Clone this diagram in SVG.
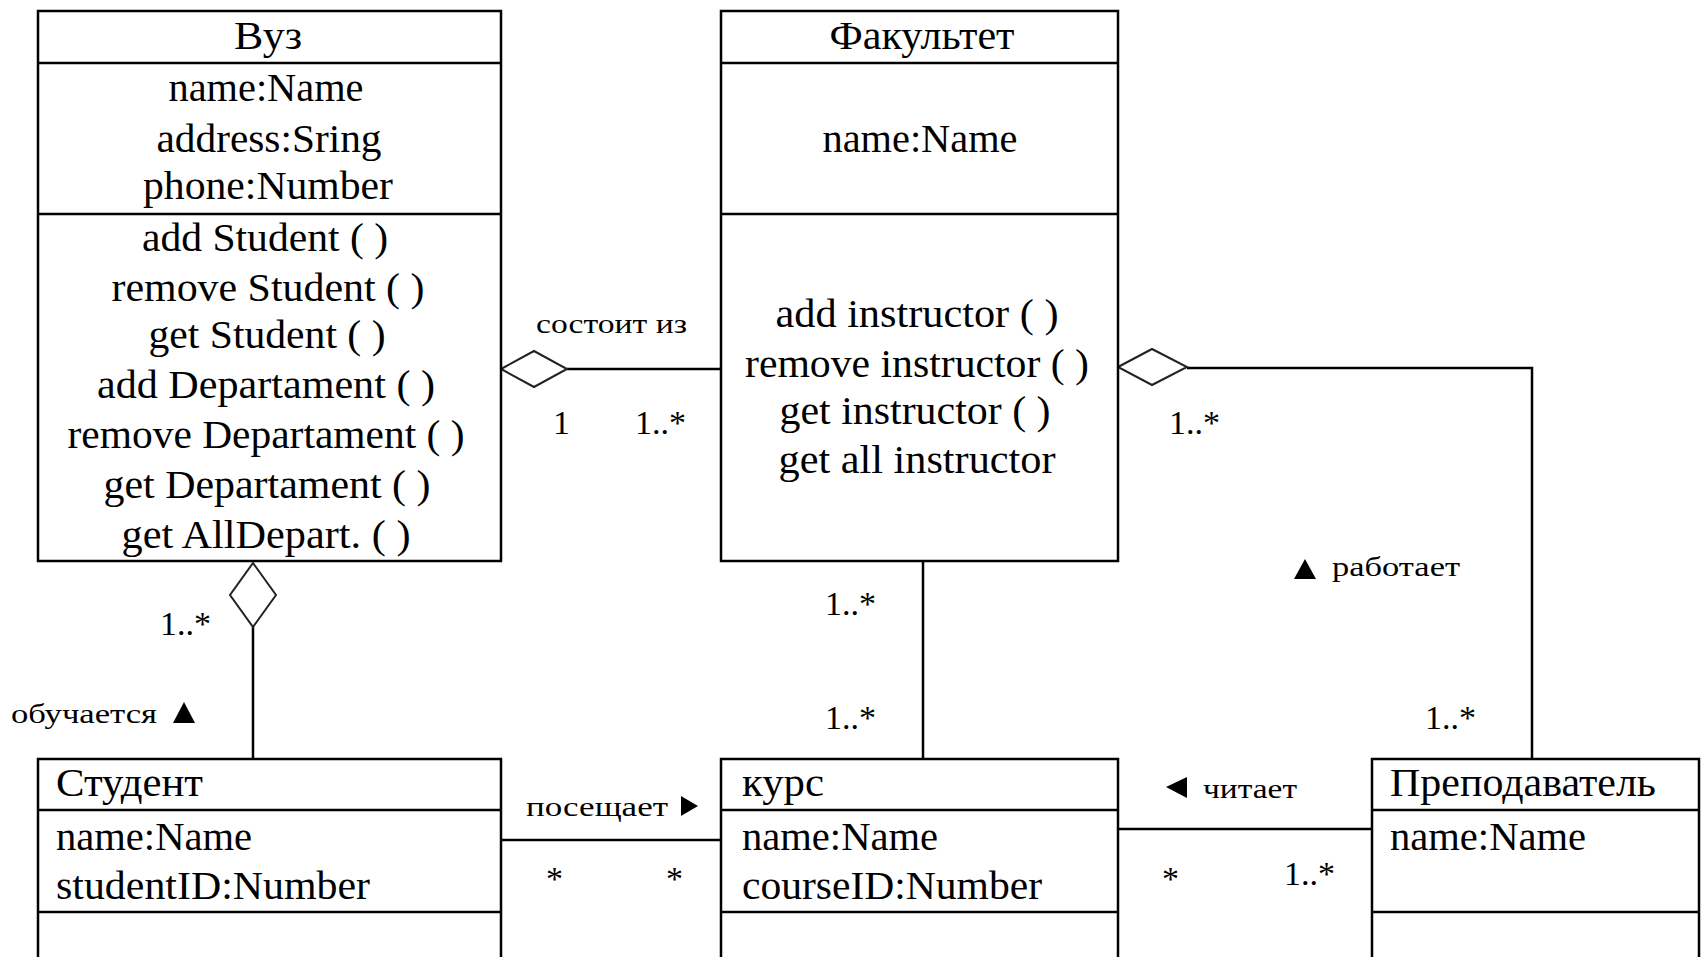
<svg xmlns="http://www.w3.org/2000/svg" width="1702" height="957" viewBox="0 0 1702 957">
<style>
.box{fill:#fff;stroke:#000;stroke-width:2.5}
.sep{stroke:#000;stroke-width:2.5}
.t{font-family:"Liberation Serif","Times New Roman",serif;font-size:40px;fill:#000}
.c{text-anchor:middle}
.m{font-family:"Liberation Serif","Times New Roman",serif;font-size:34px;fill:#000}
.l{font-family:"Liberation Serif","Times New Roman",serif;font-size:28px;fill:#000}
.ln{fill:none;stroke:#000;stroke-width:2.5}
.dia{fill:#fff;stroke:#222;stroke-width:2}
.tri{fill:#000}
</style>
<rect width="1702" height="957" fill="#fff"/>

<g id="connectors">
  <!-- Вуз - Факультет -->
  <line class="ln" x1="567" y1="369" x2="721" y2="369"/>
  <polygon class="dia" points="501,369 534,351 567,369 534,387"/>
  <!-- Факультет - Преподаватель -->
  <polyline class="ln" points="1187,368 1532,368 1532,759"/>
  <polygon class="dia" points="1118,367 1152,349 1187,367 1152,385"/>
  <!-- Вуз - Студент -->
  <line class="ln" x1="253" y1="627" x2="253" y2="759"/>
  <polygon class="dia" points="253,563 276,595 253,627 230,595"/>
  <!-- Факультет - курс -->
  <line class="ln" x1="923" y1="561" x2="923" y2="759"/>
  <!-- Студент - курс -->
  <line class="ln" x1="497" y1="840" x2="721" y2="840"/>
  <!-- курс - Преподаватель -->
  <line class="ln" x1="1118" y1="829" x2="1372" y2="829"/>

  <!-- labels -->
  <text class="l" x="536" y="333" textLength="151" lengthAdjust="spacingAndGlyphs">состоит из</text>
  <text class="m" x="553" y="434">1</text>
  <text class="m" x="635" y="434">1..*</text>
  <text class="m" x="1169" y="434">1..*</text>

  <polygon class="tri" points="1305,559 1316,579 1294,579"/>
  <text class="l" x="1332" y="576" textLength="128" lengthAdjust="spacingAndGlyphs">работает</text>
  <text class="m" x="1425" y="729">1..*</text>

  <text class="m" x="160" y="635">1..*</text>
  <text class="l" x="11" y="723" textLength="146" lengthAdjust="spacingAndGlyphs">обучается</text>
  <polygon class="tri" points="184,702 195,723 173,723"/>

  <text class="m" x="825" y="615">1..*</text>
  <text class="m" x="825" y="729">1..*</text>

  <text class="l" x="526" y="816" textLength="142" lengthAdjust="spacingAndGlyphs">посещает</text>
  <polygon class="tri" points="681,796 698,806 681,816"/>
  <text class="m" x="546" y="890">*</text>
  <text class="m" x="666" y="890">*</text>

  <polygon class="tri" points="1187,777 1187,798 1166,787"/>
  <text class="l" x="1203" y="798" textLength="94" lengthAdjust="spacingAndGlyphs">читает</text>
  <text class="m" x="1162" y="890">*</text>
  <text class="m" x="1284" y="885">1..*</text>
</g>

<g id="vuz">
  <rect class="box" x="38" y="11" width="463" height="550"/>
  <line class="sep" x1="38" y1="63" x2="501" y2="63"/>
  <line class="sep" x1="38" y1="214" x2="501" y2="214"/>
  <text class="t c" x="268" y="49" textLength="68" lengthAdjust="spacingAndGlyphs">Вуз</text>
  <text class="t c" x="266" y="101" textLength="195" lengthAdjust="spacingAndGlyphs">name:Name</text>
  <text class="t c" x="269" y="152" textLength="225" lengthAdjust="spacingAndGlyphs">address:Sring</text>
  <text class="t c" x="268" y="199" textLength="250" lengthAdjust="spacingAndGlyphs">phone:Number</text>
  <text class="t c" x="265" y="251" textLength="246" lengthAdjust="spacingAndGlyphs">add Student ( )</text>
  <text class="t c" x="268" y="301" textLength="313" lengthAdjust="spacingAndGlyphs">remove  Student ( )</text>
  <text class="t c" x="267" y="348" textLength="237" lengthAdjust="spacingAndGlyphs">get Student ( )</text>
  <text class="t c" x="266" y="398" textLength="338" lengthAdjust="spacingAndGlyphs">add Departament ( )</text>
  <text class="t c" x="266" y="448" textLength="397" lengthAdjust="spacingAndGlyphs">remove Departament ( )</text>
  <text class="t c" x="267" y="498" textLength="327" lengthAdjust="spacingAndGlyphs">get Departament ( )</text>
  <text class="t c" x="266" y="548" textLength="289" lengthAdjust="spacingAndGlyphs">get AllDepart. ( )</text>
</g>

<g id="fakultet">
  <rect class="box" x="721" y="11" width="397" height="550"/>
  <line class="sep" x1="721" y1="63" x2="1118" y2="63"/>
  <line class="sep" x1="721" y1="214" x2="1118" y2="214"/>
  <text class="t c" x="922" y="49" textLength="185" lengthAdjust="spacingAndGlyphs">Факультет</text>
  <text class="t c" x="920" y="152" textLength="195" lengthAdjust="spacingAndGlyphs">name:Name</text>
  <text class="t c" x="917" y="327" textLength="283" lengthAdjust="spacingAndGlyphs">add instructor ( )</text>
  <text class="t c" x="917" y="377" textLength="344" lengthAdjust="spacingAndGlyphs">remove instructor ( )</text>
  <text class="t c" x="915" y="424" textLength="271" lengthAdjust="spacingAndGlyphs">get instructor ( )</text>
  <text class="t c" x="917" y="473" textLength="277" lengthAdjust="spacingAndGlyphs">get all instructor</text>
</g>

<g id="student">
  <rect class="box" x="38" y="759" width="463" height="240"/>
  <line class="sep" x1="38" y1="810" x2="501" y2="810"/>
  <line class="sep" x1="38" y1="912" x2="501" y2="912"/>
  <text class="t" x="56" y="796" textLength="147" lengthAdjust="spacingAndGlyphs">Студент</text>
  <text class="t" x="56" y="850" textLength="196" lengthAdjust="spacingAndGlyphs">name:Name</text>
  <text class="t" x="56" y="899" textLength="314" lengthAdjust="spacingAndGlyphs">studentID:Number</text>
</g>

<g id="kurs">
  <rect class="box" x="721" y="759" width="397" height="240"/>
  <line class="sep" x1="721" y1="810" x2="1118" y2="810"/>
  <line class="sep" x1="721" y1="912" x2="1118" y2="912"/>
  <text class="t" x="742" y="796" textLength="82" lengthAdjust="spacingAndGlyphs">курс</text>
  <text class="t" x="742" y="850" textLength="196" lengthAdjust="spacingAndGlyphs">name:Name</text>
  <text class="t" x="742" y="899" textLength="300" lengthAdjust="spacingAndGlyphs">courseID:Number</text>
</g>

<g id="prepodavatel">
  <rect class="box" x="1372" y="759" width="327" height="240"/>
  <line class="sep" x1="1372" y1="810" x2="1699" y2="810"/>
  <line class="sep" x1="1372" y1="912" x2="1699" y2="912"/>
  <text class="t" x="1390" y="796" textLength="266" lengthAdjust="spacingAndGlyphs">Преподаватель</text>
  <text class="t" x="1390" y="850" textLength="196" lengthAdjust="spacingAndGlyphs">name:Name</text>
</g>
</svg>
